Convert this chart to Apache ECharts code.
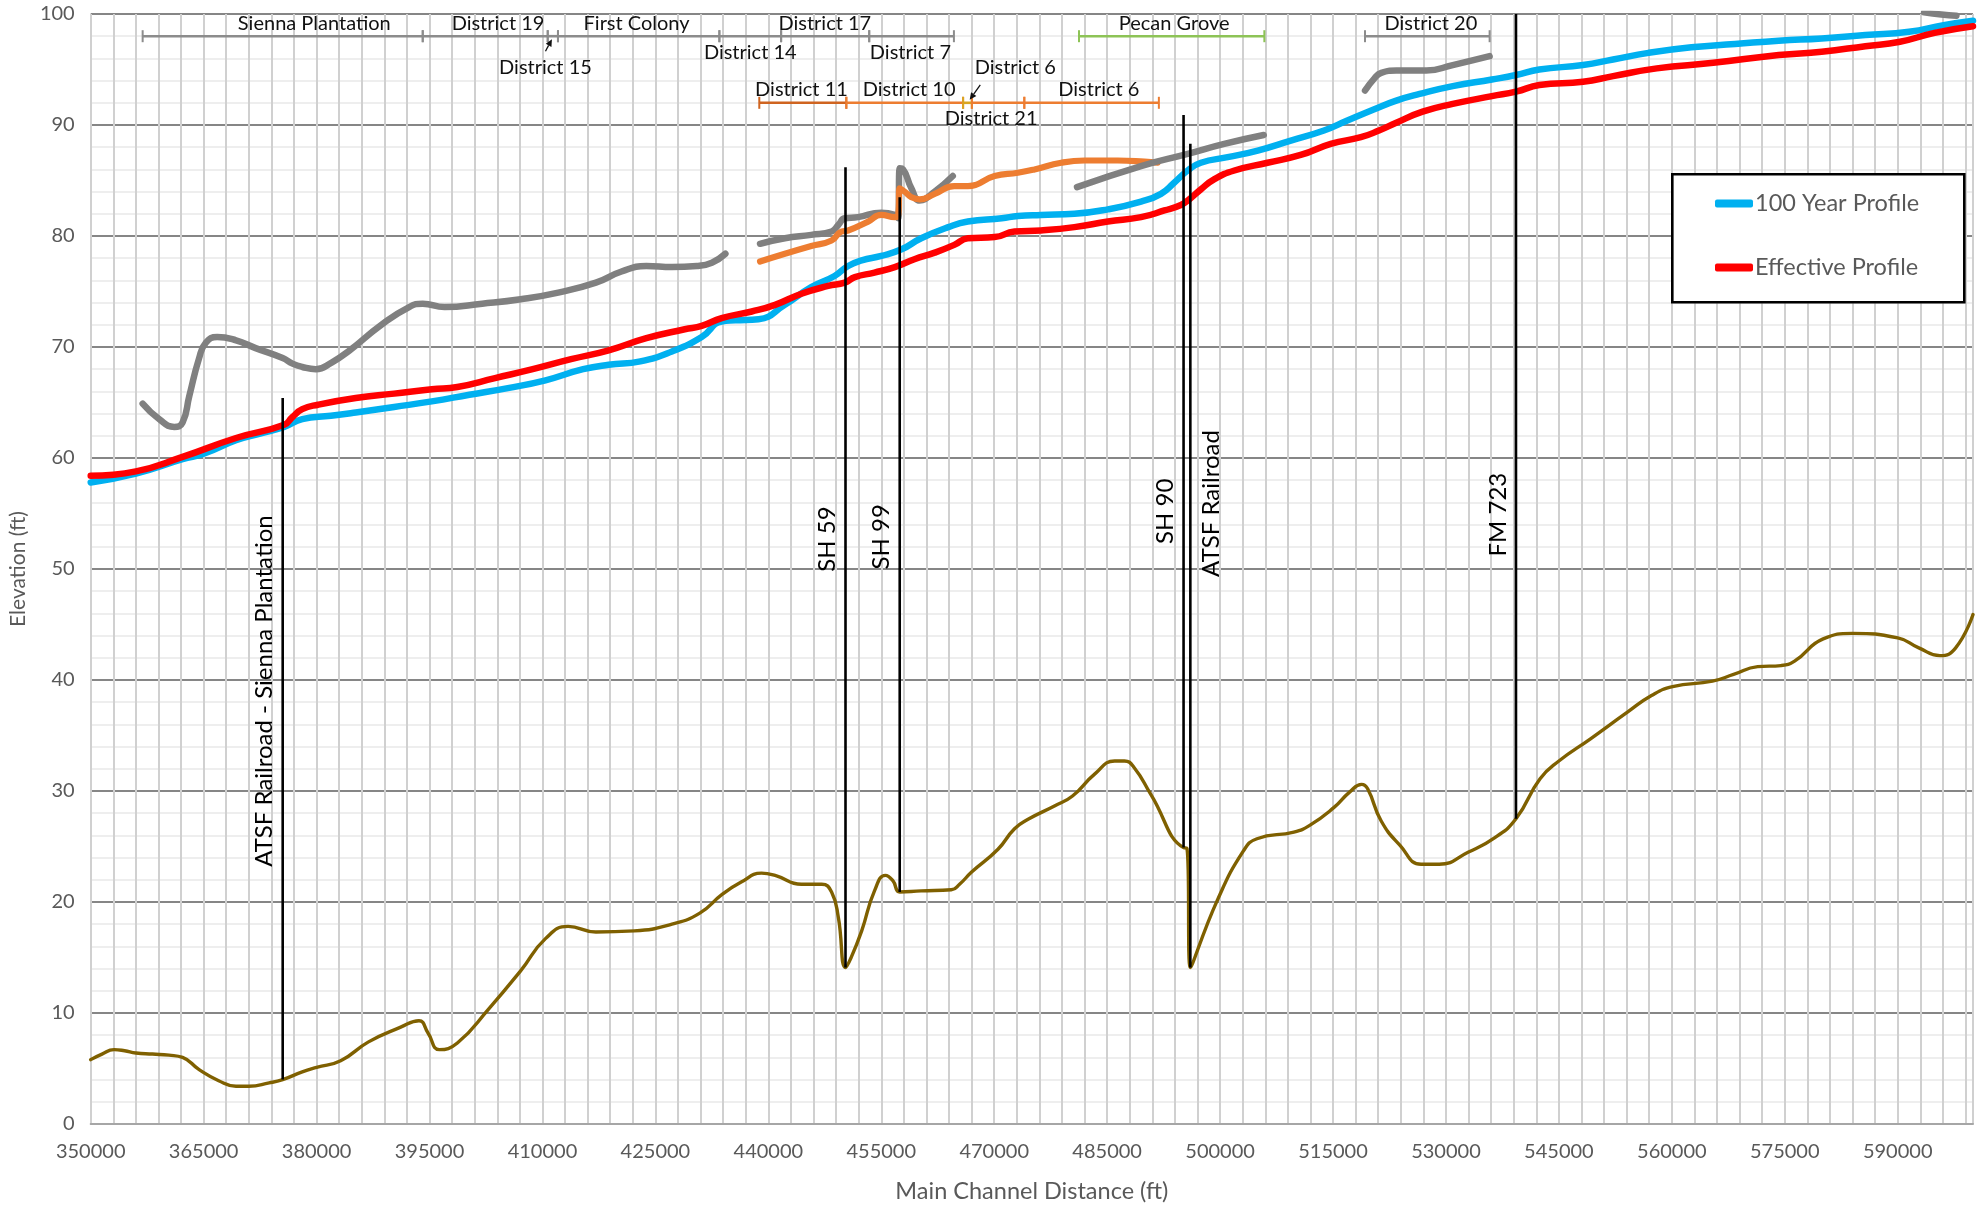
<!DOCTYPE html>
<html>
<head>
<meta charset="utf-8">
<script src="https://cdn.jsdelivr.net/npm/echarts@6/dist/echarts.min.js"></script>
<style>
  html, body { margin: 0; padding: 0; background: #ffffff; }
  #chart { width: 1982px; height: 1208px; }
</style>
</head>
<body>
<div id="chart"></div>
<script>
// ---- Profile data: [main channel distance (ft), elevation (ft)] ----
const profile100yr = [
  [350000,57.8],[356000,58.6],[362200,59.9],[365100,60.4],[369300,61.6],[372500,62.2],[375700,62.8],
  [378100,63.5],[381900,63.8],[385200,64.1],[390300,64.6],[395300,65.1],[400300,65.7],[405400,66.3],
  [410400,67.0],[415400,68.0],[418800,68.4],[423000,68.7],[427200,69.6],[431150,70.9],[433800,72.3],
  [435600,72.4],[438700,72.5],[442200,73.8],[445700,75.4],[448800,76.4],[450600,77.3],[452400,77.8],
  [455000,78.2],[457700,78.8],[460300,79.8],[463900,80.8],[466500,81.3],[471000,81.6],[473150,81.8],
  [476200,81.9],[480650,82.0],[485100,82.4],[489500,83.1],[492150,83.8],[493900,84.8],[495700,85.9],
  [497450,86.6],[501000,87.1],[505000,87.7],[509400,88.6],[513800,89.5],[516900,90.4],[520400,91.4],
  [523400,92.2],[526500,92.8],[530900,93.5],[536100,94.1],[539300,94.5],[542400,95.0],[548200,95.4],
  [552200,95.9],[556900,96.5],[562600,97.0],[568400,97.3],[574200,97.6],[579900,97.8],[585700,98.1],
  [591500,98.4],[596100,99.0],[600000,99.4]
];

const profileEffective = [
  [350000,58.4],[356000,58.8],[362200,60.1],[369300,61.8],[375700,63.0],[376800,63.7],[378100,64.4],
  [380200,64.8],[385200,65.4],[390300,65.8],[395300,66.2],[398700,66.4],[403700,67.2],[408700,68.0],
  [413800,68.9],[418800,69.7],[423800,70.8],[428900,71.6],[431150,71.9],[433800,72.6],[437800,73.2],
  [440900,73.8],[444400,74.8],[447950,75.5],[450150,75.8],[451500,76.3],[454100,76.7],[456800,77.2],
  [459400,77.9],[462100,78.5],[464700,79.2],[466500,79.8],[470050,79.9],[472700,80.4],[476200,80.5],
  [480650,80.8],[485100,81.3],[489500,81.7],[492600,82.3],[494800,82.8],[495900,83.3],[497450,84.2],
  [499200,85.1],[501900,85.9],[506300,86.6],[510700,87.3],[514700,88.3],[518700,88.9],[521100,89.5],
  [523400,90.2],[526900,91.2],[530900,91.9],[536100,92.6],[539300,93.0],[542400,93.6],[548200,93.9],
  [552200,94.4],[558000,95.1],[565500,95.6],[574200,96.3],[579900,96.6],[585700,97.1],[590300,97.5],
  [594900,98.3],[600000,98.9]
];

const channelBottom = [
  [350000,5.8],[351500,6.3],[353100,6.7],[354500,6.6],[356000,6.4],[358200,6.3],[360400,6.2],
  [362200,6.0],[364400,4.9],[367000,3.9],[369300,3.4],[371000,3.4],[373700,3.7],[375500,4.0],
  [378100,4.7],[380000,5.1],[383200,5.7],[386900,7.4],[391100,8.7],[393600,9.3],[394800,8.2],
  [396300,6.7],[398700,7.3],[402900,10.4],[407100,13.8],[410400,16.7],[413400,17.8],[417100,17.3],
  [422200,17.4],[427200,18.0],[430900,19.0],[433900,20.7],[436400,21.8],[439100,22.6],[440900,22.4],
  [444400,21.6],[447100,21.6],[448400,20.9],[449300,18.6],[450250,14.1],[451000,15.0],[452400,17.4],
  [454100,21.0],[455550,22.4],[456560,21.9],[457450,20.9],[460300,21.0],[464300,21.1],[465400,21.6],
  [467000,22.7],[470500,24.75],[472700,26.6],[474500,27.45],[478000,28.65],[480400,29.55],[483300,31.5],
  [486000,32.7],[487300,32.7],[488600,32.1],[490800,29.7],[495150,24.9],[495600,24.85],[496050,14.1],
  [499600,20.1],[503100,24.6],[504900,25.7],[509800,26.3],[511900,26.9],[515100,28.5],[517200,29.9],
  [518800,30.6],[519600,30.2],[521400,27.3],[523900,25.1],[526700,23.4],[529100,23.4],[533000,24.5],
  [536500,25.8],[539300,27.5],[542500,31.1],[545000,32.7],[549200,34.7],[554100,37.1],[557300,38.6],
  [560100,39.4],[565400,39.9],[568200,40.5],[571400,41.2],[574500,41.3],[576300,41.7],[580100,43.7],
  [584000,44.2],[590000,43.8],[592800,42.9],[595600,42.2],[597700,42.9],[600000,45.9]
];

// ---- Levee / protection crest profiles ----
const leveeSiennaFirstColony = [
  [356900,64.9],[359100,63.5],[361100,62.8],[362200,63.2],[363100,65.6],[364400,69.0],[365300,70.4],
  [366800,70.9],[369300,70.6],[371900,69.9],[375500,69.0],[376800,68.5],[378100,68.2],[379900,68.0],
  [382000,68.6],[384400,69.7],[388600,72.0],[392300,73.6],[394100,73.9],[397000,73.6],[402000,73.9],
  [407100,74.3],[412100,74.9],[417100,75.8],[420500,76.8],[423800,77.3],[427200,77.2],[430500,77.3],
  [432500,77.6],[434300,78.4]
];
const leveeDistrict17 = [
  [438900,79.3],[442200,79.8],[445700,80.1],[448400,80.4],[449300,81.0],[450150,81.6],[451900,81.7],
  [455000,82.1],[456800,81.9],[457250,81.6],[457450,86.1],[457900,86.0],[459000,84.3],[460100,83.2],
  [462100,84.0],[464500,85.4]
];
const leveePecanGrove = [
  [481000,84.4],[489500,86.3],[495700,87.4],[500550,88.3],[505800,89.1]
];
const leveeDistrict20 = [
  [519250,93.1],[520500,94.2],[521400,94.7],[523400,94.9],[527400,94.9],[530900,95.4],[535800,96.2]
];
const leveeUpstream = [
  [593500,100.15],[595800,99.95],[597800,99.85]
];
const leveeSouthSide = [
  [438900,77.7],[442200,78.4],[445700,79.1],[448400,79.6],[449700,80.4],[450600,80.5],[453250,81.3],
  [455000,81.9],[456800,81.7],[457250,81.9],[457450,84.3],[458100,84.0],[459000,83.5],[460100,83.3],
  [462100,83.8],[464700,84.5],[466500,84.5],[470050,85.4],[473150,85.7],[475350,86.0],[478900,86.6],
  [482000,86.8],[486400,86.8],[489950,86.7],[491700,86.6]
];

// ---- Crossings: [distance, bed elevation, top elevation, label elevation] ----
const crossingNames = ['ATSF Railroad - Sienna Plantation', 'SH 59', 'SH 99', 'SH 90', 'ATSF Railroad', 'FM 723'];
const crossingValues = [
  [375500, 4.0, 65.4, 39.0],
  [450250, 14.1, 86.2, 52.7],
  [457450, 20.9, 83.5, 52.9],
  [495150, 24.9, 90.9, 55.2],
  [496050, 14.1, 88.3, 55.9],
  [539300, 27.5, 100, 54.9]
];
const crossingLabelSide = ['left', 'left', 'left', 'left', 'right', 'left'];

// ---- District reaches: [name, from distance, to distance] ----
const northReaches = [
  ['Sienna Plantation', 356900, 394100],
  ['District 19', 394100, 410700],
  ['District 15', 410700, 412060],
  ['First Colony', 412060, 433500],
  ['District 14', 433500, 441700],
  ['District 17', 441700, 453400],
  ['District 7', 453400, 464650],
  ['District 20', 519250, 535800]
];
const pecanGroveReach = [
  ['Pecan Grove', 481260, 505880]
];
const southReaches = [
  ['District 11', 438800, 450360],
  ['District 10', 450360, 465870],
  ['District 6', 465870, 467030],
  ['District 21', 467030, 474000],
  ['District 6', 474000, 491870]
];

// Reach labels: [text, distance, row, placement, arrow target distance]
const reachLabels = [
  ['Sienna Plantation', 379700, 'north', 'above'],
  ['District 19', 404100, 'north', 'above'],
  ['First Colony', 422500, 'north', 'above'],
  ['District 15', 410400, 'north', 'farBelow', 411260],
  ['District 14', 437600, 'north', 'below'],
  ['District 17', 447500, 'north', 'above'],
  ['District 7', 458870, 'north', 'below'],
  ['Pecan Grove', 493900, 'north', 'above'],
  ['District 20', 528000, 'north', 'above'],
  ['District 11', 444400, 'south', 'above'],
  ['District 10', 458700, 'south', 'above'],
  ['District 6', 472800, 'south', 'farAbove', 466740],
  ['District 6', 483900, 'south', 'above'],
  ['District 21', 469600, 'south', 'below']
];

// ---- Layout / style constants ----
const FONT = 'Lato';
const NORTH_ROW = 98;
const SOUTH_ROW = 92;
const LABEL_DY = { above: -13, below: 16, farBelow: 31, farAbove: -35 };
const ARROW_FROM = { farBelow: [0, -16], farAbove: [-35, 17] };
const REACH_COLORS = {
  north: '#8C8C8C',
  pecan: '#8DC356',
  south: '#ED7D31',
  'District 11': '#CF6420',
  'District 6a': '#D9A521'
};

function reachItems(list, row, colorKey) {
  return list.map(function (r, i) {
    let color = REACH_COLORS[colorKey];
    if (r[0] === 'District 11') color = REACH_COLORS['District 11'];
    if (colorKey === 'south' && r[0] === 'District 6' && i === 2) color = REACH_COLORS['District 6a'];
    return { value: [r[1], r[2], row], itemStyle: { color: color } };
  });
}

function renderReach(params, api) {
  const a = api.coord([api.value(0), api.value(2)]);
  const b = api.coord([api.value(1), api.value(2)]);
  const color = api.visual('color');
  const cap = 6;
  return {
    type: 'group',
    children: [
      { type: 'line', shape: { x1: a[0], y1: a[1], x2: b[0], y2: b[1] }, style: { stroke: color, lineWidth: 2.6 } },
      { type: 'line', shape: { x1: a[0], y1: a[1] - cap, x2: a[0], y2: a[1] + cap }, style: { stroke: color, lineWidth: 2 } },
      { type: 'line', shape: { x1: b[0], y1: b[1] - cap, x2: b[0], y2: b[1] + cap }, style: { stroke: color, lineWidth: 2 } }
    ]
  };
}

function renderReachLabel(params, api) {
  const item = reachLabels[params.dataIndex];
  const rowElev = item[2] === 'north' ? NORTH_ROW : SOUTH_ROW;
  const p = api.coord([item[1], rowElev]);
  const cx = p[0];
  const cy = p[1] + LABEL_DY[item[3]];
  const children = [{
    type: 'text', x: cx, y: cy,
    style: { text: item[0], fill: '#111111', fontSize: 20, fontFamily: FONT, align: 'center', verticalAlign: 'middle' }
  }];
  if (item[4] !== undefined) {
    const t = api.coord([item[4], rowElev]);
    const from = ARROW_FROM[item[3]];
    const sx = cx + from[0], sy = cy + from[1];
    const tx = t[0], ty = t[1] + (sy > t[1] ? 3 : -3);
    const ang = Math.atan2(ty - sy, tx - sx);
    const h = 7, w = 3.2;
    const bx = tx - h * Math.cos(ang), by = ty - h * Math.sin(ang);
    children.push({ type: 'line', shape: { x1: sx, y1: sy, x2: bx, y2: by }, style: { stroke: '#111111', lineWidth: 1.3 } });
    children.push({
      type: 'polygon',
      shape: { points: [[tx, ty], [bx + w * Math.sin(ang), by - w * Math.cos(ang)], [bx - w * Math.sin(ang), by + w * Math.cos(ang)]] },
      style: { fill: '#111111' }
    });
  }
  return { type: 'group', children: children };
}

function renderCrossing(params, api) {
  const i = params.dataIndex;
  const bottom = api.coord([api.value(0), api.value(1)]);
  const top = api.coord([api.value(0), api.value(2)]);
  const lab = api.coord([api.value(0), api.value(3)]);
  const dx = crossingLabelSide[i] === 'left' ? -18 : 21;
  return {
    type: 'group',
    children: [
      { type: 'line', shape: { x1: bottom[0], y1: bottom[1], x2: top[0], y2: top[1] }, style: { stroke: '#000000', lineWidth: 2.6 } },
      {
        type: 'text', x: lab[0] + dx, y: lab[1], rotation: Math.PI / 2,
        style: { text: crossingNames[i], fill: '#000000', fontSize: 24, fontFamily: FONT, align: 'center', verticalAlign: 'middle' }
      }
    ]
  };
}

function profileLine(name, data, color, width, z) {
  return {
    name: name, type: 'line', data: data, showSymbol: false, symbol: 'none',
    smooth: 0.5, z: z,
    lineStyle: { color: color, width: width, cap: 'round', join: 'round' },
    itemStyle: { color: color },
    emphasis: { disabled: true }
  };
}

const chart = echarts.init(document.getElementById('chart'), null, { renderer: 'canvas' });

chart.setOption({
  animation: false,
  backgroundColor: '#ffffff',
  textStyle: { fontFamily: FONT },
  grid: { left: 88, right: 9, top: 14, bottom: 81, containLabel: false },
  xAxis: {
    type: 'value', min: 350000, max: 600000, interval: 15000,
    name: 'Main Channel Distance (ft)', nameLocation: 'middle', nameGap: 55,
    nameTextStyle: { color: '#595959', fontSize: 23.5, fontFamily: FONT },
    axisLine: { show: true, lineStyle: { color: '#A6A6A6', width: 2 } },
    axisTick: { show: false },
    axisLabel: {
      color: '#595959', fontSize: 20, fontFamily: FONT, margin: 18, showMaxLabel: false,
      formatter: function (v) { return (v - 350000) % 15000 === 0 ? String(v) : ''; }
    },
    splitLine: { show: true, lineStyle: { color: '#D0D0D0', width: 2 } },
    minorTick: { show: false, splitNumber: 5 },
    minorSplitLine: { show: true, lineStyle: { color: '#D0D0D0', width: 2 } }
  },
  yAxis: {
    type: 'value', min: 0, max: 100, interval: 10,
    name: 'Elevation (ft)', nameLocation: 'middle', nameGap: 59,
    nameTextStyle: { color: '#595959', fontSize: 21, fontFamily: FONT },
    axisLine: { show: false },
    axisTick: { show: false },
    axisLabel: { color: '#595959', fontSize: 20, fontFamily: FONT, margin: 16 },
    splitLine: { show: true, lineStyle: { color: '#868686', width: 2 } },
    minorTick: { show: false, splitNumber: 5 },
    minorSplitLine: { show: true, lineStyle: { color: '#EEEEEE', width: 2 } }
  },
  legend: {
    data: ['100 Year Profile', 'Effective Profile'],
    orient: 'vertical', left: 1715, top: 191, padding: 0,
    itemWidth: 38, itemHeight: 8, itemGap: 39, icon: 'roundRect',
    textStyle: { color: '#595959', fontSize: 23.5, fontFamily: FONT, lineHeight: 25, padding: [0, 0, 0, -3] },
    z: 20, selectedMode: false
  },
  graphic: [{
    type: 'rect', left: 1671, top: 173, z: 15,
    shape: { width: 292, height: 128 },
    style: { fill: '#ffffff', stroke: '#000000', lineWidth: 2.6 }
  }],
  series: [
    profileLine('100 Year Profile', profile100yr, '#00B0F0', 6.5, 3),
    profileLine('Effective Profile', profileEffective, '#FF0000', 6.5, 4),
    profileLine('Channel Bottom', channelBottom, '#7F6000', 3.4, 4),
    profileLine('Levee Sienna / First Colony', leveeSiennaFirstColony, '#808080', 6.5, 5),
    profileLine('Levee District 17', leveeDistrict17, '#808080', 6.5, 5),
    profileLine('Levee South Side', leveeSouthSide, '#ED7D31', 6.2, 6),
    profileLine('Levee Pecan Grove', leveePecanGrove, '#808080', 6.5, 7),
    profileLine('Levee District 20', leveeDistrict20, '#808080', 6.5, 7),
    profileLine('Levee Upstream', leveeUpstream, '#808080', 6.5, 2),
    {
      name: 'Crossings', type: 'custom', coordinateSystem: 'cartesian2d', z: 8,
      encode: { x: 0, y: [1, 2] }, renderItem: renderCrossing, data: crossingValues, silent: true
    },
    {
      name: 'North Reaches', type: 'custom', coordinateSystem: 'cartesian2d', z: 8,
      encode: { x: [0, 1], y: 2 }, renderItem: renderReach,
      data: reachItems(northReaches, NORTH_ROW, 'north').concat(reachItems(pecanGroveReach, NORTH_ROW, 'pecan')),
      silent: true
    },
    {
      name: 'South Reaches', type: 'custom', coordinateSystem: 'cartesian2d', z: 8,
      encode: { x: [0, 1], y: 2 }, renderItem: renderReach,
      data: reachItems(southReaches, SOUTH_ROW, 'south'), silent: true
    },
    {
      name: 'Reach Labels', type: 'custom', coordinateSystem: 'cartesian2d', z: 9,
      encode: { x: 0, y: 1 }, renderItem: renderReachLabel,
      data: reachLabels.map(function (l) { return [l[1], l[2] === 'north' ? NORTH_ROW : SOUTH_ROW]; }),
      silent: true
    }
  ]
});
</script>
</body>
</html>
